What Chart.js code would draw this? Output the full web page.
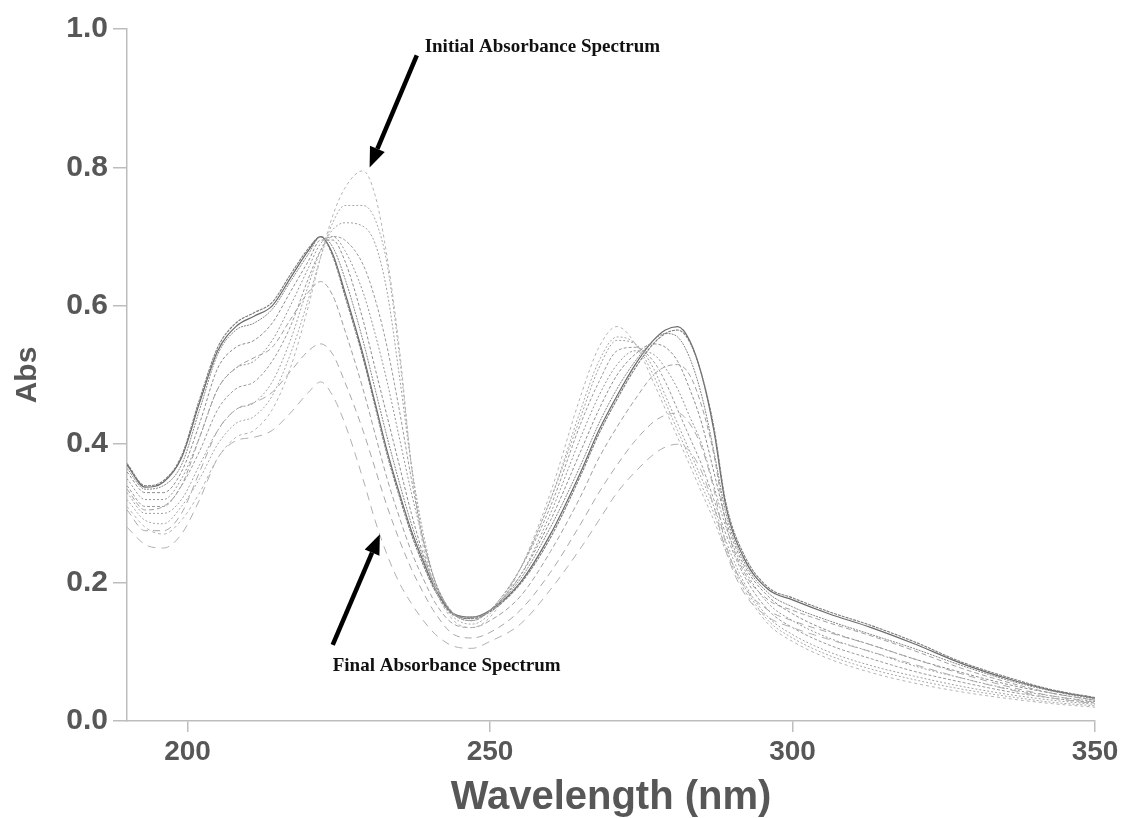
<!DOCTYPE html>
<html>
<head>
<meta charset="utf-8">
<title>Absorbance spectra</title>
<script src="https://cdn.jsdelivr.net/npm/chart.js@4"></script>
<style>
  html, body { margin: 0; padding: 0; background: #fff; }
  canvas { display: block; }
</style>
</head>
<body>
<canvas id="spectra" width="1125" height="818"></canvas>
<script>
'use strict';

// wavelengths (nm) shared by every scan
var wavelengths = [190, 193, 196, 199, 202, 205, 208, 211, 214, 217,
  220, 222, 224, 226, 229, 231, 233, 235, 237, 239,
  241, 244, 247, 250, 255, 260, 265, 268, 271, 274,
  277, 279, 281, 283, 285, 287, 289, 292, 296, 300,
  306, 313, 320, 328, 336, 343, 350];

// absorbance of each scan, first to last
var scanInitial = [0.31, 0.28, 0.27, 0.29, 0.33, 0.38, 0.41, 0.42, 0.45, 0.51,
  0.60, 0.67, 0.73, 0.77, 0.795, 0.76, 0.67, 0.54, 0.37, 0.25,
  0.19, 0.145, 0.135, 0.15, 0.22, 0.33, 0.47, 0.54, 0.57, 0.545,
  0.49, 0.45, 0.41, 0.37, 0.33, 0.29, 0.245, 0.19, 0.14, 0.115,
  0.09, 0.07, 0.055, 0.042, 0.032, 0.025, 0.02];
var scan2 = [0.32, 0.29, 0.285, 0.31, 0.35, 0.40, 0.43, 0.44, 0.47, 0.53,
  0.61, 0.67, 0.72, 0.745, 0.745, 0.725, 0.66, 0.53, 0.37, 0.26,
  0.19, 0.15, 0.14, 0.155, 0.22, 0.32, 0.45, 0.52, 0.555, 0.545,
  0.50, 0.46, 0.42, 0.38, 0.34, 0.30, 0.25, 0.195, 0.145, 0.12,
  0.095, 0.075, 0.06, 0.046, 0.035, 0.027, 0.022];
var scan3 = [0.33, 0.30, 0.30, 0.32, 0.37, 0.42, 0.45, 0.46, 0.49, 0.55,
  0.63, 0.68, 0.71, 0.72, 0.715, 0.69, 0.62, 0.50, 0.37, 0.27,
  0.20, 0.155, 0.145, 0.16, 0.22, 0.32, 0.44, 0.51, 0.55, 0.545,
  0.51, 0.47, 0.43, 0.39, 0.35, 0.31, 0.26, 0.20, 0.15, 0.125,
  0.10, 0.08, 0.065, 0.05, 0.038, 0.03, 0.024];
var scan4 = [0.34, 0.31, 0.31, 0.34, 0.39, 0.45, 0.48, 0.49, 0.52, 0.57,
  0.64, 0.68, 0.70, 0.695, 0.66, 0.61, 0.54, 0.45, 0.35, 0.26,
  0.20, 0.155, 0.145, 0.16, 0.22, 0.31, 0.43, 0.49, 0.535, 0.54,
  0.52, 0.49, 0.45, 0.41, 0.37, 0.32, 0.27, 0.21, 0.16, 0.135,
  0.11, 0.09, 0.072, 0.056, 0.042, 0.033, 0.026];
var scan5 = [0.35, 0.32, 0.32, 0.35, 0.41, 0.48, 0.51, 0.52, 0.55, 0.60,
  0.655, 0.69, 0.70, 0.68, 0.62, 0.56, 0.49, 0.41, 0.33, 0.26,
  0.20, 0.155, 0.145, 0.16, 0.21, 0.30, 0.41, 0.47, 0.515, 0.535,
  0.53, 0.51, 0.48, 0.44, 0.40, 0.34, 0.28, 0.22, 0.17, 0.145,
  0.12, 0.10, 0.08, 0.062, 0.046, 0.036, 0.028];
var scan6 = [0.36, 0.33, 0.33, 0.36, 0.43, 0.51, 0.54, 0.55, 0.575, 0.62,
  0.665, 0.695, 0.695, 0.665, 0.58, 0.51, 0.44, 0.37, 0.30, 0.24,
  0.195, 0.155, 0.148, 0.16, 0.21, 0.29, 0.39, 0.45, 0.50, 0.53,
  0.545, 0.54, 0.52, 0.48, 0.43, 0.36, 0.29, 0.225, 0.18, 0.155,
  0.13, 0.11, 0.09, 0.07, 0.052, 0.04, 0.03];
var scan7 = [0.365, 0.335, 0.34, 0.37, 0.45, 0.53, 0.565, 0.575, 0.595, 0.635,
  0.675, 0.70, 0.685, 0.64, 0.55, 0.48, 0.41, 0.345, 0.285, 0.235,
  0.195, 0.155, 0.15, 0.16, 0.205, 0.28, 0.37, 0.43, 0.48, 0.52,
  0.55, 0.56, 0.555, 0.525, 0.47, 0.39, 0.30, 0.23, 0.185, 0.165,
  0.145, 0.125, 0.105, 0.08, 0.058, 0.043, 0.032];
var scan8 = [0.37, 0.338, 0.345, 0.38, 0.46, 0.535, 0.57, 0.585, 0.60, 0.64,
  0.68, 0.70, 0.675, 0.62, 0.53, 0.46, 0.39, 0.33, 0.275, 0.23,
  0.19, 0.155, 0.15, 0.16, 0.20, 0.27, 0.36, 0.42, 0.47, 0.515,
  0.55, 0.565, 0.57, 0.55, 0.50, 0.42, 0.31, 0.235, 0.19, 0.175,
  0.155, 0.135, 0.112, 0.083, 0.06, 0.044, 0.033];
var scan9 = [0.372, 0.34, 0.347, 0.383, 0.465, 0.54, 0.575, 0.59, 0.605, 0.645,
  0.683, 0.70, 0.672, 0.615, 0.525, 0.455, 0.385, 0.325, 0.27, 0.225,
  0.187, 0.153, 0.148, 0.158, 0.198, 0.265, 0.355, 0.415, 0.465, 0.51,
  0.545, 0.56, 0.565, 0.548, 0.50, 0.425, 0.315, 0.24, 0.193, 0.178,
  0.158, 0.138, 0.115, 0.085, 0.062, 0.045, 0.034];
var scan10 = [0.335, 0.305, 0.31, 0.34, 0.41, 0.48, 0.51, 0.525, 0.54, 0.58,
  0.62, 0.635, 0.615, 0.565, 0.48, 0.415, 0.35, 0.295, 0.245, 0.205,
  0.17, 0.14, 0.135, 0.145, 0.18, 0.245, 0.325, 0.38, 0.425, 0.465,
  0.50, 0.512, 0.515, 0.50, 0.455, 0.385, 0.285, 0.215, 0.175, 0.16,
  0.142, 0.123, 0.102, 0.076, 0.055, 0.04, 0.03];
var scan11 = [0.305, 0.275, 0.275, 0.30, 0.36, 0.42, 0.45, 0.46, 0.475, 0.505,
  0.535, 0.545, 0.53, 0.49, 0.42, 0.365, 0.31, 0.262, 0.22, 0.185,
  0.155, 0.125, 0.12, 0.128, 0.16, 0.215, 0.285, 0.33, 0.37, 0.405,
  0.432, 0.442, 0.445, 0.43, 0.395, 0.335, 0.255, 0.195, 0.16, 0.145,
  0.128, 0.11, 0.09, 0.068, 0.049, 0.036, 0.027];
var scanFinal = [0.28, 0.255, 0.25, 0.27, 0.32, 0.38, 0.405, 0.41, 0.42, 0.445,
  0.475, 0.49, 0.47, 0.43, 0.35, 0.29, 0.24, 0.20, 0.17, 0.145,
  0.125, 0.108, 0.105, 0.115, 0.14, 0.19, 0.25, 0.29, 0.33, 0.36,
  0.385, 0.396, 0.40, 0.39, 0.36, 0.31, 0.245, 0.185, 0.15, 0.135,
  0.118, 0.10, 0.082, 0.062, 0.045, 0.033, 0.025];

// axis ticks
var xTicks = [200, 250, 300, 350];
var yTicks = [0, 0.2, 0.4, 0.6, 0.8, 1.0];

// arrow labels, placed in wavelength / absorbance units
var notes = [
  { text: 'Initial Absorbance Spectrum', textAt: [239.2, 0.974], tail: [237.9, 0.962], tip: [230.1, 0.80] },
  { text: 'Final Absorbance Spectrum', textAt: [224.0, 0.079], tail: [224.0, 0.11], tip: [231.8, 0.27] }
];

var axisGray = '#bdbdbd';
var labelGray = '#575757';

function toPoints(values) {
  return wavelengths.map(function (w, i) {
    return { x: w, y: values[i] };
  });
}

function scanSet(values, color, dash, width) {
  return {
    data: toPoints(values),
    borderColor: color,
    borderDash: dash,
    borderWidth: width,
    cubicInterpolationMode: 'monotone',
    pointRadius: 0,
    fill: false
  };
}

// lighter scans first so the dark ones sit on top
var datasets = [
  scanSet(scanInitial, '#b4b4b4', [3, 3], 1),
  scanSet(scanFinal, '#b0b0b0', [8, 6], 1),
  scanSet(scan11, '#a8a8a8', [7, 5], 1),
  scanSet(scan10, '#a0a0a0', [5, 3], 1),
  scanSet(scan2, '#a8a8a8', [2, 2], 1),
  scanSet(scan3, '#a0a0a0', [2, 2], 1),
  scanSet(scan4, '#9a9a9a', [3, 2], 1),
  scanSet(scan5, '#959595', [2, 2], 1),
  scanSet(scan6, '#8c8c8c', [3, 2], 1),
  scanSet(scan7, '#858585', [2, 1], 1),
  scanSet(scan9, '#7a7a7a', [3, 1], 1.1),
  scanSet(scan8, '#6a6a6a', [], 1.2)
];

function drawArrow(ctx, x1, y1, x2, y2) {
  var ang = Math.atan2(y2 - y1, x2 - x1);
  var headLen = 20;
  var headHalf = 8;
  var bx = x2 - headLen * Math.cos(ang);
  var by = y2 - headLen * Math.sin(ang);
  ctx.save();
  ctx.strokeStyle = '#000';
  ctx.fillStyle = '#000';
  ctx.lineWidth = 4.5;
  ctx.beginPath();
  ctx.moveTo(x1, y1);
  ctx.lineTo(bx, by);
  ctx.stroke();
  ctx.beginPath();
  ctx.moveTo(x2, y2);
  ctx.lineTo(bx + headHalf * Math.sin(ang), by - headHalf * Math.cos(ang));
  ctx.lineTo(bx - headHalf * Math.sin(ang), by + headHalf * Math.cos(ang));
  ctx.closePath();
  ctx.fill();
  ctx.restore();
}

var notePlugin = {
  id: 'arrowNotes',
  afterDraw: function (chart) {
    var ctx = chart.ctx;
    var xs = chart.scales.x;
    var ys = chart.scales.y;
    notes.forEach(function (note) {
      drawArrow(ctx,
        xs.getPixelForValue(note.tail[0]), ys.getPixelForValue(note.tail[1]),
        xs.getPixelForValue(note.tip[0]), ys.getPixelForValue(note.tip[1]));
      ctx.save();
      ctx.font = 'bold 19px "Liberation Serif", "Times New Roman", serif';
      ctx.fillStyle = '#111';
      ctx.textAlign = 'left';
      ctx.textBaseline = 'middle';
      ctx.fillText(note.text, xs.getPixelForValue(note.textAt[0]), ys.getPixelForValue(note.textAt[1]));
      ctx.restore();
    });
  }
};

var ctx = document.getElementById('spectra').getContext('2d');
var chart = new Chart(ctx, {
  type: 'line',
  data: { datasets: datasets },
  plugins: [notePlugin],
  options: {
    responsive: false,
    animation: false,
    layout: { padding: { top: 29, right: 30, left: 0, bottom: 0 } },
    plugins: {
      legend: { display: false },
      tooltip: { enabled: false }
    },
    scales: {
      x: {
        type: 'linear',
        min: 190,
        max: 350,
        afterBuildTicks: function (scale) {
          scale.ticks = xTicks.map(function (v) { return { value: v }; });
        },
        afterFit: function (scale) { scale.height = 97; },
        border: { color: axisGray, width: 1.5 },
        grid: { drawOnChartArea: false, drawTicks: true, tickLength: 11, color: axisGray, lineWidth: 1.5 },
        ticks: {
          padding: 3,
          maxRotation: 0,
          color: labelGray,
          font: { family: '"Liberation Sans", Arial, sans-serif', size: 28, weight: 'bold' }
        },
        title: {
          display: true,
          text: 'Wavelength (nm)',
          color: labelGray,
          padding: { top: 0, bottom: 0 },
          font: { family: '"Liberation Sans", Arial, sans-serif', size: 40, weight: 'bold', lineHeight: 1 }
        }
      },
      y: {
        min: 0,
        max: 1,
        afterBuildTicks: function (scale) {
          scale.ticks = yTicks.map(function (v) { return { value: v }; });
        },
        afterFit: function (scale) { scale.width = 127; },
        border: { color: axisGray, width: 1.5 },
        grid: { drawOnChartArea: false, drawTicks: true, tickLength: 14, color: axisGray, lineWidth: 1.5 },
        ticks: {
          padding: 5,
          color: labelGray,
          font: { family: '"Liberation Sans", Arial, sans-serif', size: 30, weight: 'bold' },
          callback: function (v) { return Number(v).toFixed(1); }
        },
        title: {
          display: true,
          text: 'Abs',
          color: labelGray,
          padding: { top: 13, bottom: 0 },
          font: { family: '"Liberation Sans", Arial, sans-serif', size: 30, weight: 'bold', lineHeight: 1 }
        }
      }
    }
  }
});
</script>
</body>
</html>
